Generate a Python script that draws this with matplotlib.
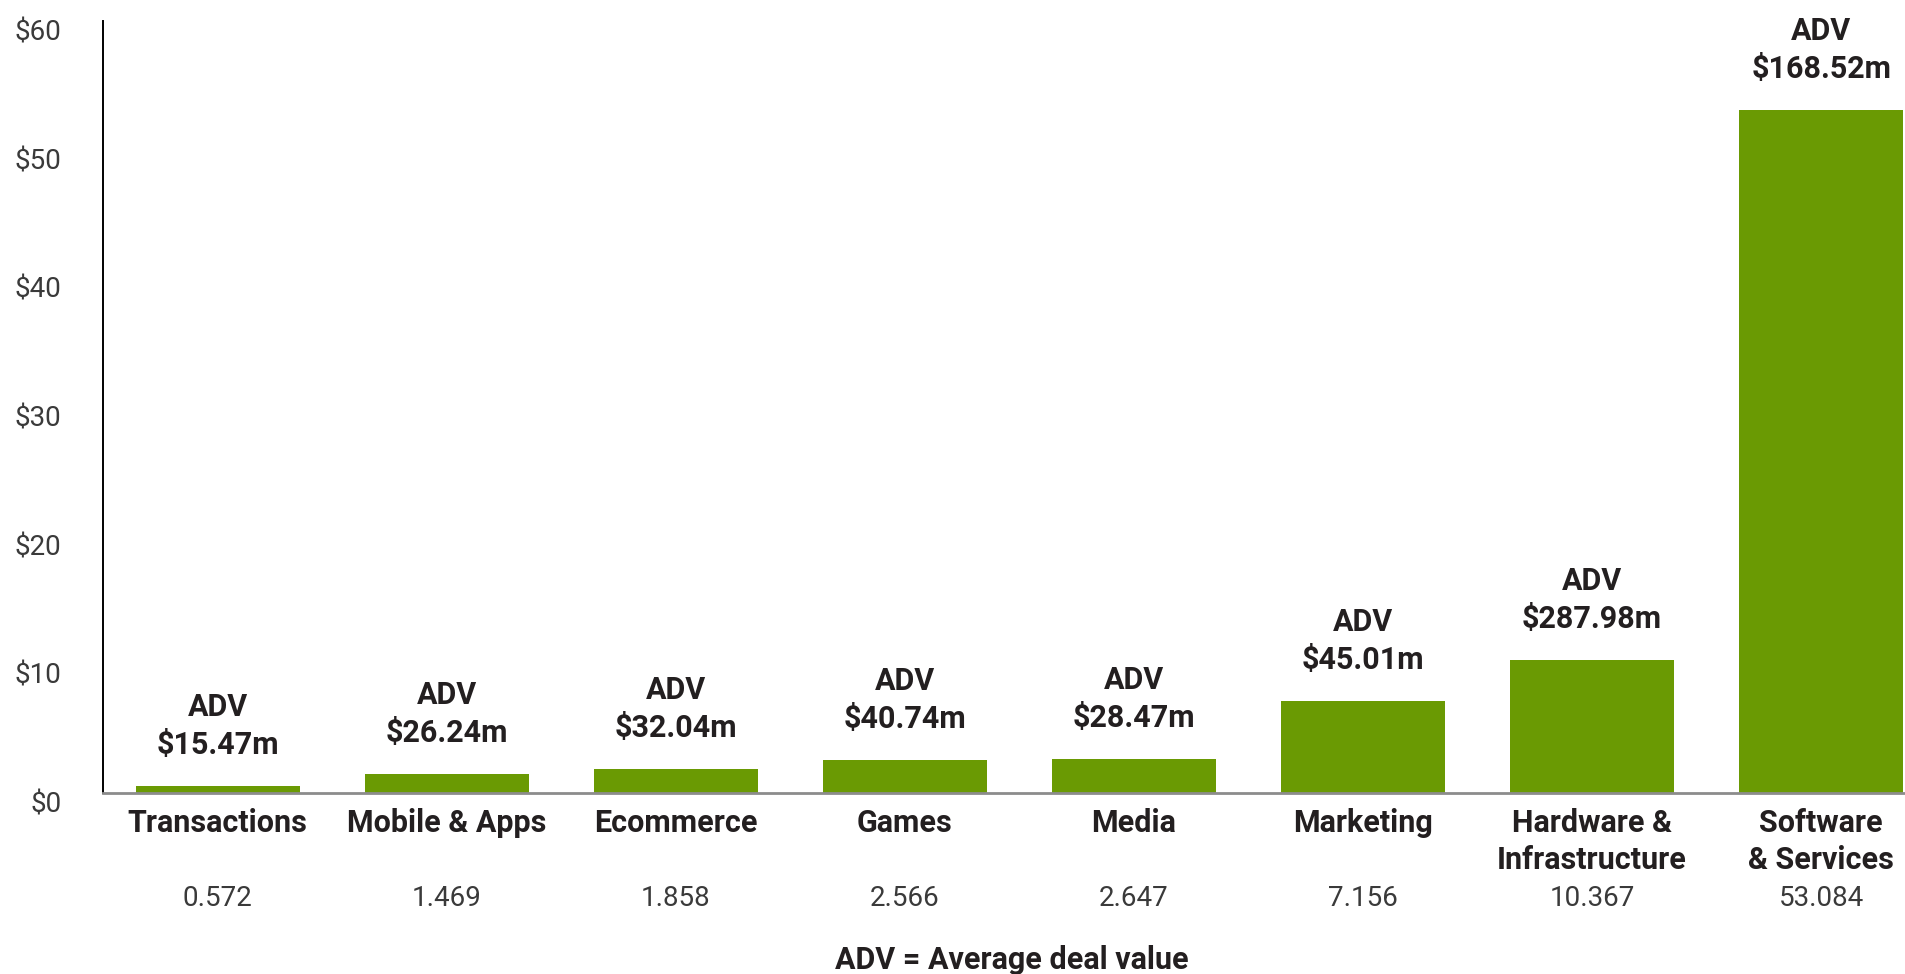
import matplotlib
matplotlib.use("Agg")
import matplotlib.pyplot as plt
from matplotlib.transforms import ScaledTranslation

categories = ["Transactions", "Mobile & Apps", "Ecommerce", "Games", "Media",
              "Marketing", "Hardware &\nInfrastructure", "Software\n& Services"]
values = [0.572, 1.469, 1.858, 2.566, 2.647, 7.156, 10.367, 53.084]
value_labels = ["0.572", "1.469", "1.858", "2.566", "2.647", "7.156", "10.367", "53.084"]
adv_labels = ["$15.47m", "$26.24m", "$32.04m", "$40.74m", "$28.47m",
              "$45.01m", "$287.98m", "$168.52m"]
yticks = [0, 10, 20, 30, 40, 50, 60]
ytick_labels = ["$0", "$10", "$20", "$30", "$40", "$50", "$60"]
footer = "ADV = Average deal value"

GREEN = "#6A9A03"
DARK = "#231F20"
GRAY = "#3A3A3A"
FONT = ["Roboto", "DejaVu Sans"]

plt.rcParams['font.family'] = FONT

fig = plt.figure(figsize=(19.06, 9.74), dpi=100)
ax = fig.add_axes([103/1906, 1 - 793/974, 1 - 103/1906, (793 - 21)/974])

x = list(range(len(categories)))
ax.bar(x, values, width=0.716, color=GREEN, zorder=2)
ax.set_xlim(-0.5, 7.37)
ax.set_ylim(0, 60)

for s in ["top", "right"]:
    ax.spines[s].set_visible(False)
ax.spines["left"].set_color("black")
ax.spines["left"].set_linewidth(1.4)
ax.spines["bottom"].set_color("#8C8C8C")
ax.spines["bottom"].set_linewidth(2)

ax.set_xticks([])
ax.set_yticks(yticks)
ax.set_yticklabels(ytick_labels, fontsize=20, color=GRAY, fontweight="normal")
ax.tick_params(axis="y", length=0, pad=30)
offset = ScaledTranslation(0, -9/100, fig.dpi_scale_trans)
for lab in ax.get_yticklabels():
    lab.set_transform(lab.get_transform() + offset)

BOLD_SIZE = 22

# ADV labels above bars
for xi, v, lab in zip(x, values, adv_labels):
    ax.annotate(lab, xy=(xi, v), xytext=(0, 41 * 0.72), textcoords="offset points",
                ha="center", va="center", fontsize=BOLD_SIZE, fontweight="bold", color=DARK)
    ax.annotate("ADV", xy=(xi, v), xytext=(0, 79 * 0.72), textcoords="offset points",
                ha="center", va="center", fontsize=BOLD_SIZE, fontweight="bold", color=DARK)

# category labels and values below axis
for xi, cat, vl in zip(x, categories, value_labels):
    for j, line in enumerate(cat.split("\n")):
        ax.annotate(line, xy=(xi, 0), xytext=(0, -(823 - 793 + 37 * j) * 0.72),
                    textcoords="offset points", ha="center", va="center",
                    fontsize=BOLD_SIZE, fontweight="bold", color=DARK, annotation_clip=False)
    ax.annotate(vl, xy=(xi, 0), xytext=(0, -(899 - 793) * 0.72),
                textcoords="offset points", ha="center", va="center",
                fontsize=20, fontweight="normal", color=GRAY, annotation_clip=False)

fig.text(1012/1906, 1 - 960/974, footer, ha="center", va="center",
         fontsize=BOLD_SIZE, fontweight="bold", color=DARK)

fig.savefig("out.png", dpi=100)
